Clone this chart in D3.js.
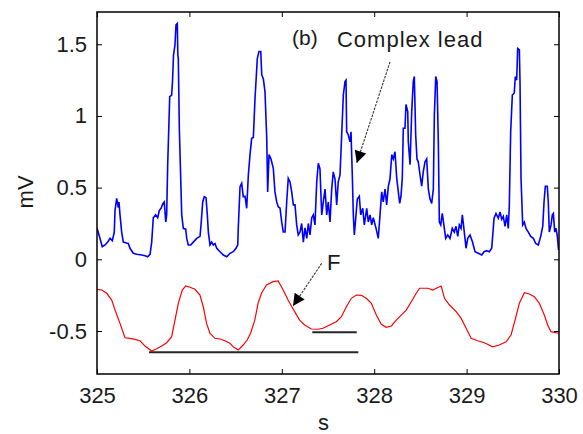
<!DOCTYPE html>
<html>
<head>
<meta charset="utf-8">
<script src="https://cdn.jsdelivr.net/npm/d3@7"></script>
<style>
  html, body { margin: 0; padding: 0; background: #fff; }
  svg { display: block; }
  text { font-family: "Liberation Sans", Arial, sans-serif; fill: #1a1a1a; }
</style>
</head>
<body>
<svg id="chart" width="583" height="434"></svg>
<script>
// ---------- data ----------
const xTicks = [325, 326, 327, 328, 329, 330];
const yTicks = [-0.5, 0, 0.5, 1, 1.5];
const xLabel = "s";
const yLabel = "mV";

// Complex lead (blue): time (s), amplitude (mV)
const leadTime = [
325.000,325.022,325.057,325.087,325.116,325.141,325.166,325.187,325.195,325.213,325.231,325.238,325.249,325.267,325.285,325.339,325.357,325.393,325.430,325.484,
325.520,325.549,325.574,325.592,325.609,325.635,325.657,325.674,325.693,325.714,325.728,325.744,325.754,325.765,325.787,325.808,325.817,325.828,325.844,325.855,
325.869,325.875,325.880,325.891,325.917,325.934,325.960,325.971,325.988,326.014,326.042,326.079,326.115,326.126,326.144,326.161,326.180,326.194,326.205,326.223,
326.241,326.259,326.277,326.296,326.331,326.367,326.404,326.439,326.475,326.504,326.523,326.529,326.548,326.566,326.583,326.602,326.620,326.638,326.656,326.674,
326.692,326.710,326.735,326.753,326.772,326.783,326.800,326.818,326.837,326.847,326.862,326.883,326.908,326.926,326.945,326.962,326.981,326.999,327.016,327.035,
327.053,327.070,327.089,327.107,327.125,327.143,327.161,327.178,327.197,327.215,327.233,327.251,327.270,327.287,327.305,327.324,327.341,327.359,327.378,327.395,
327.413,327.432,327.449,327.468,327.486,327.503,327.522,327.540,327.557,327.576,327.594,327.611,327.630,327.648,327.666,327.684,327.695,327.702,327.720,327.738,
327.749,327.763,327.774,327.785,327.803,327.817,327.839,327.854,327.876,327.893,327.919,327.936,327.955,327.973,327.990,328.020,328.044,328.063,328.081,328.098,
328.117,328.135,328.153,328.171,328.190,328.207,328.225,328.244,328.261,328.276,328.290,328.304,328.315,328.333,328.344,328.363,328.369,328.388,328.406,328.423,
328.434,328.449,328.463,328.477,328.496,328.514,328.531,328.550,328.568,328.586,328.604,328.622,328.640,328.651,328.666,328.680,328.694,328.705,328.720,328.737,
328.759,328.774,328.796,328.820,328.845,328.867,328.885,328.904,328.921,328.940,328.954,328.975,328.994,329.012,329.037,329.064,329.091,329.127,329.164,329.189,
329.218,329.246,329.272,329.283,329.297,329.318,329.343,329.362,329.380,329.397,329.416,329.434,329.451,329.462,329.477,329.495,329.516,329.527,329.542,329.553,
329.571,329.578,329.589,329.607,329.625,329.643,329.668,329.694,329.722,329.748,329.776,329.802,329.824,329.838,329.852,329.873,329.884,329.895,329.914,329.928,
329.939,329.954,329.968,329.982,329.995
];
const leadMV = [
0.216,0.17,0.088,0.10,0.12,0.146,0.13,0.19,0.34,0.425,0.36,0.40,0.31,0.19,0.12,0.11,0.077,0.042,0.035,0.03,
0.025,0.018,0.035,0.12,0.29,0.31,0.29,0.34,0.356,0.39,0.40,0.26,0.31,0.66,1.134,1.146,1.24,1.425,1.495,1.635,
1.645,1.425,1.40,0.914,0.31,0.216,0.21,0.146,0.10,0.10,0.12,0.146,0.16,0.24,0.40,0.437,0.43,0.31,0.19,0.10,
0.12,0.10,0.11,0.077,0.053,0.03,0.018,0.042,0.053,0.077,0.10,0.216,0.507,0.53,0.437,0.44,0.356,0.588,0.73,0.844,
0.85,1.12,1.40,1.45,1.45,1.286,1.26,1.17,0.844,0.47,0.73,0.70,0.635,0.47,0.40,0.367,0.356,0.26,0.19,0.19,
0.40,0.565,0.54,0.47,0.38,0.38,0.24,0.17,0.19,0.25,0.12,0.22,0.146,0.25,0.17,0.29,0.31,0.24,0.54,0.67,
0.63,0.31,0.40,0.49,0.31,0.40,0.26,0.49,0.61,0.56,0.38,0.54,0.588,0.867,1.146,1.24,1.25,0.89,0.867,0.82,
0.89,0.588,0.31,0.17,0.31,0.42,0.44,0.31,0.356,0.24,0.356,0.26,0.31,0.24,0.29,0.216,0.146,0.31,0.47,0.40,
0.49,0.38,0.51,0.56,0.73,0.70,0.75,0.565,0.47,0.39,0.44,0.565,0.914,0.914,1.08,1.03,0.82,0.66,1.03,1.24,
1.275,0.867,0.70,0.68,0.588,0.51,0.61,0.68,0.70,0.49,0.42,0.39,0.49,1.007,1.275,1.24,0.82,0.26,0.24,0.32,
0.216,0.146,0.17,0.146,0.216,0.19,0.23,0.16,0.24,0.216,0.31,0.19,0.077,0.146,0.17,0.12,0.053,0.042,0.03,0.053,
0.06,0.053,0.077,0.17,0.286,0.32,0.286,0.33,0.28,0.30,0.23,0.31,0.216,0.37,0.89,1.146,1.16,1.275,1.25,1.47,
1.46,1.24,0.565,0.24,0.26,0.216,0.19,0.16,0.146,0.11,0.10,0.16,0.23,0.40,0.51,0.51,0.40,0.19,0.24,0.31,
0.32,0.19,0.216,0.16,0.065
];

// F wave (red): time (s), amplitude (mV)
const fTime = [
325.000,325.051,325.105,325.159,325.195,325.249,325.303,325.357,325.411,325.465,325.520,325.592,325.646,325.700,325.754,325.808,325.844,325.880,325.923,325.960,
326.006,326.060,326.114,326.150,326.186,326.222,326.276,326.330,326.384,326.438,326.481,326.528,326.582,326.625,326.662,326.708,326.743,326.780,326.834,326.906,
326.960,326.996,327.032,327.068,327.104,327.150,327.193,327.247,327.320,327.392,327.446,327.518,327.590,327.645,327.699,327.753,327.807,327.861,327.915,327.969,
328.023,328.077,328.131,328.185,328.239,328.293,328.347,328.401,328.455,328.491,328.581,328.635,328.671,328.725,328.761,328.815,328.887,328.941,328.995,329.049,
329.120,329.192,329.282,329.354,329.427,329.481,329.524,329.571,329.625,329.679,329.733,329.787,329.841,329.877,329.913,329.995
];
const fMV = [
-0.209,-0.214,-0.237,-0.284,-0.354,-0.447,-0.547,-0.551,-0.558,-0.568,-0.605,-0.640,-0.624,-0.605,-0.582,-0.540,-0.424,-0.307,-0.214,-0.186,
-0.195,-0.209,-0.249,-0.331,-0.447,-0.516,-0.551,-0.556,-0.568,-0.586,-0.614,-0.633,-0.598,-0.563,-0.516,-0.424,-0.307,-0.237,-0.179,-0.156,
-0.151,-0.191,-0.237,-0.284,-0.326,-0.377,-0.424,-0.458,-0.486,-0.488,-0.481,-0.458,-0.435,-0.400,-0.331,-0.272,-0.249,-0.251,-0.272,-0.307,
-0.389,-0.454,-0.474,-0.465,-0.424,-0.389,-0.354,-0.296,-0.237,-0.202,-0.202,-0.214,-0.202,-0.186,-0.272,-0.319,-0.365,-0.412,-0.481,-0.551,
-0.568,-0.582,-0.610,-0.598,-0.575,-0.528,-0.424,-0.307,-0.233,-0.242,-0.261,-0.307,-0.389,-0.458,-0.505,-0.516
];

// horizontal reference bars (t0, t1, level in mV)
const barStart = [325.563, 327.330];
const barEnd   = [327.828, 327.811];
const barLevel = [-0.649, -0.509];

// annotations (data coordinates)
const noteText  = ["(b)", "Complex lead", "F"];
const noteT     = [327.110, 327.597, 327.489];
const noteV     = [1.495, 1.48, -0.075];
const arrowFromT = [328.171, 327.432];
const arrowFromV = [1.377, -0.028];
const arrowToT   = [327.811, 327.121];
const arrowToV   = [0.672, -0.326];

// ---------- layout ----------
const W = 583, H = 434;
const margin = {left: 97, right: 24, top: 12, bottom: 60};
const iw = W - margin.left - margin.right;
const ih = H - margin.top - margin.bottom;

const svg = d3.select("#chart");
const g = svg.append("g").attr("transform", `translate(${margin.left},${margin.top})`);

const x = d3.scaleLinear().domain([325, 330]).range([0, iw]);
const y = d3.scaleLinear().domain([-0.8, 1.725]).range([ih, 0]);

const fontSize = 22;

// clip
const defs = svg.append("defs");
defs.append("clipPath").attr("id", "clip")
  .append("rect").attr("width", iw).attr("height", ih);

const plot = g.append("g").attr("clip-path", "url(#clip)");

const line = d3.line().x(d => x(d[0])).y(d => y(d[1]));

plot.append("path")
  .datum(leadTime.map((t, i) => [t, leadMV[i]]))
  .attr("fill", "none").attr("stroke", "#0000ff").attr("stroke-width", 1.6)
  .attr("stroke-linejoin", "miter")
  .attr("d", line);

plot.append("path")
  .datum(fTime.map((t, i) => [t, fMV[i]]))
  .attr("fill", "none").attr("stroke", "#ff0000").attr("stroke-width", 1.2)
  .attr("d", line);

plot.selectAll("line.bar").data(barLevel).join("line")
  .attr("class", "bar")
  .attr("x1", (d, i) => x(barStart[i])).attr("x2", (d, i) => x(barEnd[i]))
  .attr("y1", d => y(d)).attr("y2", d => y(d))
  .attr("stroke", "#262626").attr("stroke-width", 2);

// axes
const axB = d3.axisBottom(x).tickValues(xTicks).tickSizeInner(-5).tickSizeOuter(0).tickPadding(13).tickFormat(d => String(d));
const axT = d3.axisTop(x).tickValues(xTicks).tickSizeInner(-5).tickSizeOuter(0).tickFormat("");
const axL = d3.axisLeft(y).tickValues(yTicks).tickSizeInner(-5).tickSizeOuter(0).tickPadding(10).tickFormat(d => String(d));
const axR = d3.axisRight(y).tickValues(yTicks).tickSizeInner(-5).tickSizeOuter(0).tickFormat("");

function styleAxis(sel) {
  sel.select(".domain").remove();
  sel.selectAll(".tick line").attr("stroke", "#000").attr("stroke-width", 1);
  sel.selectAll(".tick text").attr("font-size", fontSize)
     .attr("font-family", "Liberation Sans, Arial, sans-serif").attr("fill", "#1a1a1a");
}
g.append("g").attr("transform", `translate(0,${ih})`).call(axB).call(styleAxis);
g.append("g").call(axT).call(styleAxis);
g.append("g").call(axL).call(styleAxis);
g.append("g").attr("transform", `translate(${iw},0)`).call(axR).call(styleAxis);

g.append("rect").attr("x", 0).attr("y", 0).attr("width", iw).attr("height", ih)
  .attr("fill", "none").attr("stroke", "#000").attr("stroke-width", 1.5);

// axis labels
svg.append("text").attr("x", margin.left + x(327.45)).attr("y", 430)
  .attr("text-anchor", "middle").attr("font-size", fontSize).text(xLabel);
svg.append("text")
  .attr("transform", `translate(33,${margin.top + y(0.47)}) rotate(-90)`)
  .attr("text-anchor", "middle").attr("font-size", fontSize).text(yLabel);

// arrows
defs.append("marker").attr("id", "ah").attr("viewBox", "0 0 10 10")
  .attr("refX", 10).attr("refY", 5).attr("markerWidth", 16).attr("markerHeight", 12)
  .attr("markerUnits", "userSpaceOnUse").attr("orient", "auto")
  .append("path").attr("d", "M0,0 L10,5 L0,10 Z").attr("fill", "#000");

g.selectAll("line.arrow").data(arrowFromT).join("line")
  .attr("class", "arrow")
  .attr("x1", (d, i) => x(arrowFromT[i])).attr("y1", (d, i) => y(arrowFromV[i]))
  .attr("x2", (d, i) => x(arrowToT[i])).attr("y2", (d, i) => y(arrowToV[i]))
  .attr("stroke", "#333").attr("stroke-width", 1.1).attr("stroke-dasharray", "2.5,1.2")
  .attr("marker-end", "url(#ah)");

g.selectAll("text.note").data(noteText).join("text")
  .attr("class", "note")
  .attr("x", (d, i) => x(noteT[i])).attr("y", (d, i) => y(noteV[i]))
  .attr("font-size", (d, i) => i === 0 ? 21 : fontSize)
  .attr("letter-spacing", (d, i) => i === 1 ? 1 : 0)
  .text(d => d);
</script>
</body>
</html>
